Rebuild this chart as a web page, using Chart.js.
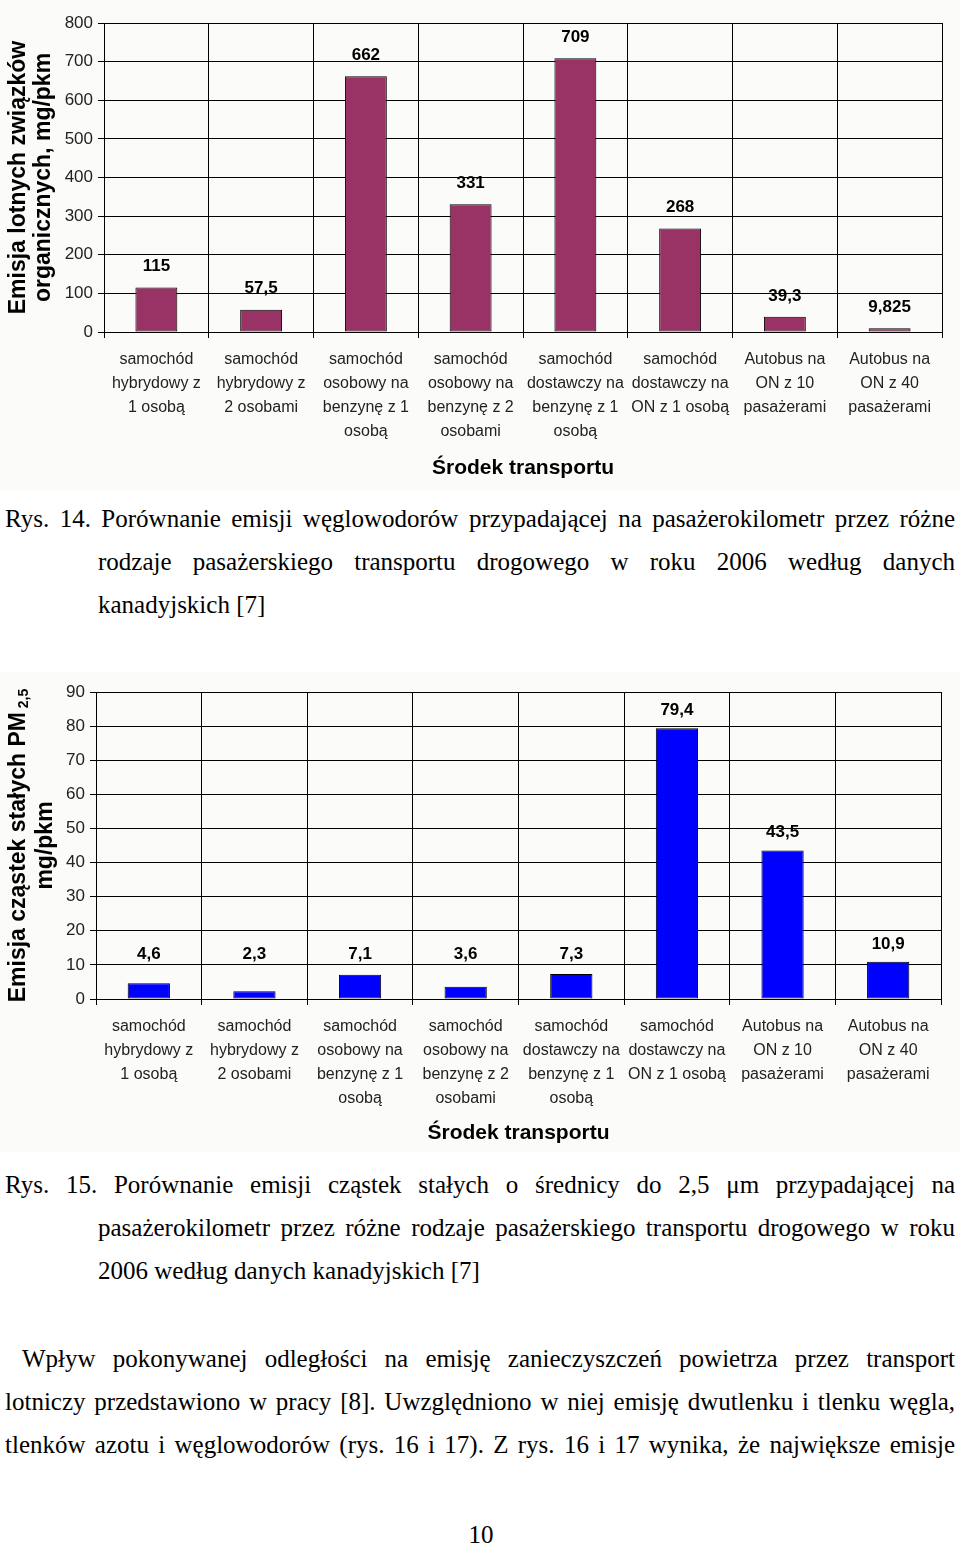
<!DOCTYPE html>
<html lang="pl">
<head>
<meta charset="utf-8">
<title>Rys. 14 i 15</title>
<script src="https://cdn.jsdelivr.net/npm/chart.js@4.4.1/dist/chart.umd.min.js"></script>
<style>
  body { margin: 0; background: #fff; width: 960px; height: 1545px; position: relative; overflow: hidden;
         font-family: "Liberation Serif", "Times New Roman", serif; color: #000; }
  .chart { position: absolute; left: 0; width: 960px; background: #fbfcf9; }
  .txt { position: absolute; left: 5px; width: 950px; font-size: 25px; line-height: 43px; }
  .txt div { text-align: justify; text-align-last: justify; white-space: nowrap; }
  .txt div.last { text-align-last: left; }
  .txt div.ind { padding-left: 93px; }
  .txt div.first { padding-left: 17px; }
  .page { position: absolute; top: 1518px; left: 0; width: 962px; text-align: center; font-size: 25px; line-height: 34px; }
</style>
</head>
<body>
<div class="chart" style="top:0;height:490px"><canvas id="hcChart" width="960" height="490"></canvas></div>
<div class="txt" style="top:497px">
  <div>Rys. 14. Porównanie emisji węglowodorów przypadającej na pasażerokilometr przez różne</div>
  <div class="ind">rodzaje pasażerskiego transportu drogowego w roku 2006 według danych</div>
  <div class="ind last">kanadyjskich [7]</div>
</div>
<div class="chart" style="top:672px;height:480px"><canvas id="pmChart" width="960" height="480"></canvas></div>
<div class="txt" style="top:1163px">
  <div>Rys. 15. Porównanie emisji cząstek stałych o średnicy do 2,5 μm przypadającej na</div>
  <div class="ind">pasażerokilometr przez różne rodzaje pasażerskiego transportu drogowego w roku</div>
  <div class="ind last">2006 według danych kanadyjskich [7]</div>
</div>
<div class="txt" style="top:1337px">
  <div class="first">Wpływ pokonywanej odległości na emisję zanieczyszczeń powietrza przez transport</div>
  <div>lotniczy przedstawiono w pracy [8]. Uwzględniono w niej emisję dwutlenku i tlenku węgla,</div>
  <div>tlenków azotu i węglowodorów (rys. 16 i 17). Z rys. 16 i 17 wynika, że największe emisje</div>
</div>
<div class="page">10</div>

<script>
const categories = [
  ["samochód", "hybrydowy z", "1 osobą"],
  ["samochód", "hybrydowy z", "2 osobami"],
  ["samochód", "osobowy na", "benzynę z 1", "osobą"],
  ["samochód", "osobowy na", "benzynę z 2", "osobami"],
  ["samochód", "dostawczy na", "benzynę z 1", "osobą"],
  ["samochód", "dostawczy na", "ON z 1 osobą"],
  ["Autobus na", "ON z 10", "pasażerami"],
  ["Autobus na", "ON z 40", "pasażerami"]
];

const hydrocarbonValues = [115, 57.5, 662, 331, 709, 268, 39.3, 9.825];
const pm25Values = [4.6, 2.3, 7.1, 3.6, 7.3, 79.4, 43.5, 10.9];

const xTitle = "Środek transportu";
const sansFont = "'Liberation Sans', Arial, sans-serif";

// value labels above the bars, decimal comma as in the original
const valueLabels = {
  id: "valueLabels",
  afterDatasetsDraw(chart, args, opts) {
    const ctx = chart.ctx;
    const meta = chart.getDatasetMeta(0);
    const values = chart.data.datasets[0].data;
    ctx.save();
    ctx.font = "bold 17px " + sansFont;
    ctx.fillStyle = "#000";
    ctx.textAlign = "center";
    ctx.textBaseline = "middle";
    meta.data.forEach((bar, i) => {
      const top = Math.min(bar.y, bar.base - opts.minGap);
      ctx.fillText(String(values[i]).replace(".", ","), bar.x, top - opts.offset);
    });
    ctx.restore();
  }
};

// rotated y title, with support for a subscript part
const yTitle = {
  id: "yTitle",
  afterDraw(chart, args, opts) {
    const ctx = chart.ctx;
    const area = chart.chartArea;
    const cy = (area.top + area.bottom) / 2;
    ctx.save();
    ctx.fillStyle = "#000";
    ctx.textBaseline = "middle";
    ctx.textAlign = "left";
    opts.lines.forEach((parts, i) => {
      let total = 0;
      parts.forEach(p => { ctx.font = p.font; total += ctx.measureText(p.text).width; });
      ctx.save();
      ctx.translate(opts.x[i], cy);
      ctx.rotate(-Math.PI / 2);
      let pos = -total / 2;
      parts.forEach(p => {
        ctx.font = p.font;
        ctx.fillText(p.text, pos, p.dy || 0);
        pos += ctx.measureText(p.text).width;
      });
      ctx.restore();
    });
    ctx.restore();
  }
};

function makeChart(id, values, cfg) {
  const ctx = document.getElementById(id).getContext("2d");
  return new Chart(ctx, {
    type: "bar",
    data: {
      labels: categories,
      datasets: [{
        data: values,
        backgroundColor: cfg.color,
        borderColor: "#000",
        borderWidth: 1,
        borderSkipped: false,
        categoryPercentage: 1,
        barPercentage: 0.4
      }]
    },
    options: {
      responsive: false,
      devicePixelRatio: 1,
      animation: false,
      layout: { padding: { top: cfg.padTop, right: cfg.padRight, left: 0, bottom: 0 } },
      plugins: {
        legend: { display: false },
        tooltip: { enabled: false },
        valueLabels: cfg.labels,
        yTitle: cfg.yTitle
      },
      scales: {
        x: {
          grid: { color: "#000", lineWidth: 1, offset: true, tickLength: 6, drawOnChartArea: true },
          border: { color: "#000" },
          ticks: { color: "#222", font: { family: sansFont, size: 16, lineHeight: 1.5 }, padding: 10, maxRotation: 0, autoSkip: false },
          title: { display: true, text: xTitle, color: "#000", font: { family: sansFont, size: 21, weight: "bold" }, padding: { bottom: cfg.titlePad, top: 0 } },
          afterFit(scale) { scale.height = cfg.xHeight; }
        },
        y: {
          min: 0,
          max: cfg.max,
          grid: { color: "#000", lineWidth: 1, tickLength: 6 },
          border: { color: "#000" },
          ticks: { stepSize: cfg.step, color: "#222", font: { family: sansFont, size: 17 }, padding: 5 },
          afterFit(scale) { scale.width = cfg.yWidth; }
        }
      }
    },
    plugins: [valueLabels, yTitle]
  });
}

const titleFont = "bold 23px " + sansFont;

makeChart("hcChart", hydrocarbonValues, {
  color: "#993366",
  max: 800, step: 100,
  padTop: 23, padRight: 18,
  xHeight: 158, yWidth: 104, titlePad: 9,
  labels: { offset: 21, minGap: 0 },
  yTitle: {
    x: [19, 44],
    lines: [
      [{ text: "Emisja lotnych związków", font: titleFont }],
      [{ text: "organicznych, mg/pkm", font: titleFont }]
    ]
  }
});

makeChart("pmChart", pm25Values, {
  color: "#0000ff",
  max: 90, step: 10,
  padTop: 20, padRight: 19,
  xHeight: 153, yWidth: 96, titlePad: 6,
  labels: { offset: 18, minGap: 26 },
  yTitle: {
    x: [19, 46],
    lines: [
      [{ text: "Emisja cząstek stałych PM", font: titleFont }, { text: " 2,5", font: "bold 14px " + sansFont, dy: 5 }],
      [{ text: "mg/pkm", font: titleFont }]
    ]
  }
});
</script>
</body>
</html>
